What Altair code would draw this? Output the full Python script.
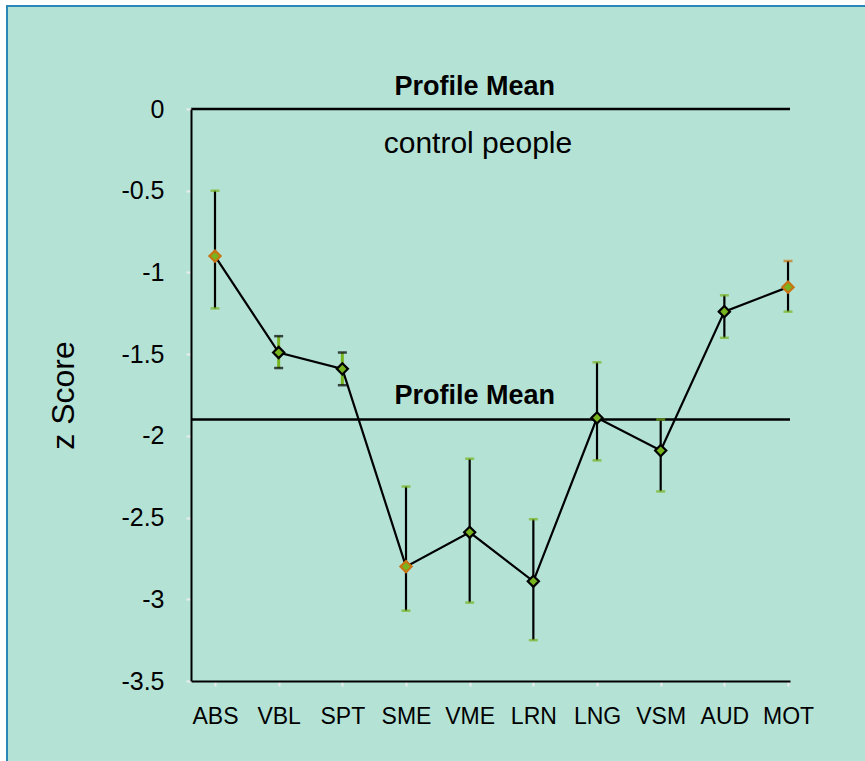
import json
import altair as alt
import pandas as pd

# ---- data ----
categories = ["ABS", "VBL", "SPT", "SME", "VME", "LRN", "LNG", "VSM", "AUD", "MOT"]
z_scores = [-0.90, -1.49, -1.59, -2.80, -2.59, -2.89, -1.89, -2.09, -1.24, -1.09]
upper = [-0.50, -1.39, -1.49, -2.31, -2.14, -2.51, -1.55, -1.90, -1.14, -0.93]
lower = [-1.22, -1.585, -1.69, -3.07, -3.02, -3.25, -2.15, -2.34, -1.40, -1.24]
flagged = ["ABS", "SME", "MOT"]          # markers drawn with orange outline
short_bars = ["VBL", "SPT"]              # green stems with black caps
orange_top = ["MOT"]                     # top cap orange
y_ticks = [0, -0.5, -1, -1.5, -2, -2.5, -3, -3.5]
control_mean = 0.0
profile_mean = -1.9

GREEN = "#78b41e"
ORANGE = "#c97412"
BLACK = "#000000"
BG = "#b4e3d6"
BORDER = "#2b87b6"
FONT = "Liberation Sans"

idx = list(range(len(categories)))
df = pd.DataFrame({
    "idx": idx,
    "cat": categories,
    "z": z_scores,
    "hi": upper,
    "lo": lower,
})
df["mk"] = ["o" if c in flagged else "k" for c in categories]
df["stem"] = ["g" if c in short_bars else "k" for c in categories]
df["topcap"] = ["o" if c in orange_top else ("k" if c in short_bars else "g") for c in categories]
df["botcap"] = ["k" if c in short_bars else "g" for c in categories]

kind_scale = alt.Scale(domain=["k", "g", "o"], range=[BLACK, GREEN, ORANGE])
xscale = alt.Scale(domain=[-0.377, 9.031], nice=False, zero=False)
yscale = alt.Scale(domain=[-3.5, 0], nice=False, zero=False)

label_expr = json.dumps(categories) + "[datum.value]"

x_axis = alt.Axis(
    values=idx, labelExpr=label_expr, title=None, grid=False, zindex=1,
    domainColor=BLACK, domainWidth=2, tickColor="#e9ecea", tickSize=5, tickWidth=2,
    labelFontSize=23, labelColor=BLACK, labelPadding=19, labelFont=FONT,
)
y_axis = alt.Axis(
    values=y_ticks, labelExpr="toString(datum.value)", title="z Score", grid=False, zindex=1,
    domainColor=BLACK, domainWidth=2, tickColor="#e9ecea", tickSize=5, tickWidth=2,
    labelFontSize=25, labelColor=BLACK, labelPadding=22, labelFont=FONT,
    titleFontSize=32, titleFontWeight="normal", titleColor=BLACK, titleFont=FONT,
    titlePadding=40,
)


def X(field):
    return alt.X(field, scale=xscale, axis=x_axis)


def Y(field):
    return alt.Y(field, scale=yscale, axis=y_axis)


# decorative frame (chart background panel)
frame = alt.Chart(pd.DataFrame({"a": [0]})).mark_rect(
    fill=BG, stroke=BORDER, strokeWidth=2
).encode(x=alt.value(-184), y=alt.value(-103), x2=alt.value(720), y2=alt.value(720))

means = pd.DataFrame({"m": [control_mean, profile_mean]})
mean_rules = alt.Chart(means).mark_rule(color=BLACK, strokeWidth=2.5).encode(
    y=Y("m:Q")
)

stems = alt.Chart(df).mark_rule().encode(
    x=X("idx:Q"),
    y=Y("hi:Q"),
    y2="lo:Q",
    color=alt.Color("stem:N", scale=kind_scale, legend=None),
    strokeWidth=alt.StrokeWidth("stem:N", scale=alt.Scale(domain=["k", "g"], range=[2.2, 3]), legend=None),
)

top_caps = alt.Chart(df).mark_tick(orient="horizontal", size=9, thickness=2.5).encode(
    x=X("idx:Q"),
    y=Y("hi:Q"),
    color=alt.Color("topcap:N", scale=kind_scale, legend=None),
)
bot_caps = alt.Chart(df).mark_tick(orient="horizontal", size=9, thickness=2.5).encode(
    x=X("idx:Q"),
    y=Y("lo:Q"),
    color=alt.Color("botcap:N", scale=kind_scale, legend=None),
)

line = alt.Chart(df).mark_line(color=BLACK, strokeWidth=2.2).encode(
    x=X("idx:Q"),
    y=Y("z:Q"),
)

points = alt.Chart(df).mark_point(shape="diamond", filled=True, size=125, strokeWidth=2.2, opacity=1).encode(
    x=X("idx:Q"),
    y=Y("z:Q"),
    fill=alt.value(GREEN),
    stroke=alt.Stroke("mk:N", scale=kind_scale, legend=None),
)

label_df = pd.DataFrame({"x": [4.08], "m": [control_mean], "t": ["Profile Mean"]})
label_df2 = pd.DataFrame({"x": [4.08], "m": [profile_mean], "t": ["Profile Mean"]})
label_df3 = pd.DataFrame({"x": [4.13], "m": [control_mean], "t": ["control people"]})


def text_layer(d, dy, weight, size):
    return alt.Chart(d).mark_text(
        dy=dy, baseline="alphabetic", align="center", fontWeight=weight,
        fontSize=size, font=FONT, color=BLACK,
    ).encode(
        x=X("x:Q"),
        y=Y("m:Q"),
        text="t:N",
    )


texts = (
    text_layer(label_df, -14, "bold", 27)
    + text_layer(label_df2, -16, "bold", 27)
    + text_layer(label_df3, 44, "normal", 30)
)

chart = alt.layer(
    frame, mean_rules, stems, top_caps, bot_caps, line, points, texts
).properties(
    width=599, height=572,
    autosize=alt.AutoSizeParams(type="none"),
    padding={"left": 191, "top": 109, "right": 75, "bottom": 80},
    background="white",
).configure_view(stroke=None).configure(font=FONT)

chart.save("out.html", embed_options={"renderer": "svg", "actions": False})
